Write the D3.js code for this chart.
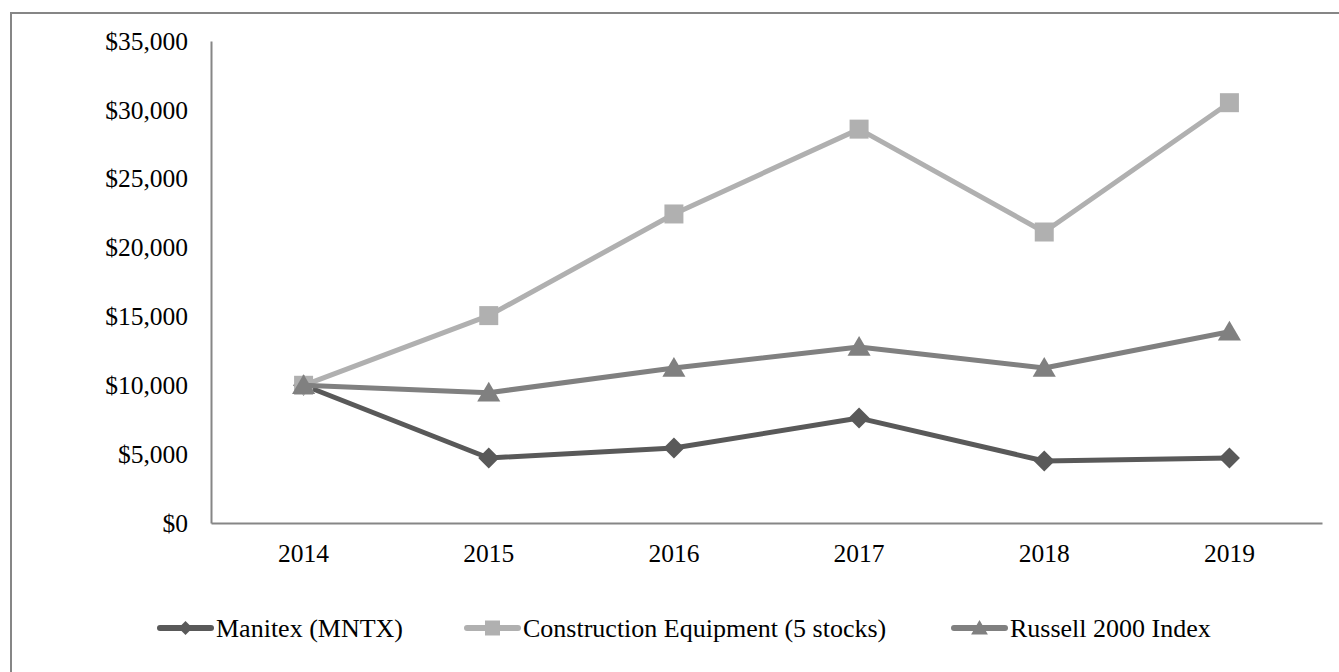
<!DOCTYPE html>
<html>
<head>
<meta charset="utf-8">
<script src="https://cdn.jsdelivr.net/npm/d3@7"></script>
<style>
	body { margin: 0; background: #fff; }
	svg { display: block; font-family: "Liberation Serif", "Times New Roman", serif; }
</style>
</head>
<body>
<svg width="1339" height="672"></svg>
<script>
const years = ["2014", "2015", "2016", "2017", "2018", "2019"]
const manitex = [10000, 4720, 5450, 7620, 4500, 4720]
const construction = [10000, 15060, 22440, 28600, 21130, 30520]
const russell = [10000, 9460, 11260, 12780, 11260, 13890]
const yTicks = [0, 5000, 10000, 15000, 20000, 25000, 30000, 35000]

const series = [
	{ name: "Manitex (MNTX)", values: manitex, color: "#595959", shape: "diamond" },
	{ name: "Construction Equipment (5 stocks)", values: construction, color: "#b0b0b0", shape: "square" },
	{ name: "Russell 2000 Index", values: russell, color: "#808080", shape: "triangle" },
]

const svg = d3.select("svg")
const axisColor = "#868686"

// outer frame (runs off the right/bottom edge like the original)
svg.append("rect")
	.attr("x", 11).attr("y", 13)
	.attr("width", 1400).attr("height", 700)
	.attr("fill", "none")
	.attr("stroke", axisColor)
	.attr("stroke-width", 2)

const x = d3.scaleBand().domain(years).range([211, 1322])
const y = d3.scaleLinear().domain([0, 35000]).range([523, 41])
const cx = d => x(d) + x.bandwidth() / 2

const fmt = v => "$" + d3.format(",")(v)

// y axis
const yAxis = svg.append("g")
	.attr("transform", "translate(211,0)")
	.call(d3.axisLeft(y).tickValues(yTicks).tickFormat(fmt).tickSize(0).tickPadding(23))
	.attr("font-family", null)
	.attr("font-size", 25.5)
yAxis.select(".domain").attr("stroke", axisColor).attr("stroke-width", 2)
yAxis.selectAll("text").attr("fill", "#000")

// x axis
const xAxis = svg.append("g")
	.attr("transform", "translate(0,523)")
	.call(d3.axisBottom(x).tickSize(0).tickPadding(21))
	.attr("font-family", null)
	.attr("font-size", 25.5)
xAxis.select(".domain").attr("stroke", axisColor).attr("stroke-width", 2)
xAxis.selectAll("text").attr("fill", "#000")

const symbols = {
	diamond: s => `M0,${-s} L${s},0 L0,${s} L${-s},0 Z`,
	square: s => `M${-s},${-s} H${s} V${s} H${-s} Z`,
	triangle: s => `M0,${-s} L${s * 1.05},${s * 0.8} L${-s * 1.05},${s * 0.8} Z`,
}
const markerSize = { diamond: 10.5, square: 9.5, triangle: 11 }
const legendSize = { diamond: 7, square: 7.5, triangle: 8 }

const line = d3.line().x((d, i) => cx(years[i])).y(d => y(d))

series.forEach(s => {
	const g = svg.append("g")
	g.append("path")
		.attr("d", line(s.values))
		.attr("fill", "none")
		.attr("stroke", s.color)
		.attr("stroke-width", 5)
		.attr("stroke-linejoin", "round")
	g.selectAll("path.mark")
		.data(s.values)
		.enter()
		.append("path")
		.attr("class", "mark")
		.attr("d", symbols[s.shape](markerSize[s.shape]))
		.attr("transform", (d, i) => `translate(${cx(years[i])},${y(d)})`)
		.attr("fill", s.color)
})

// legend
const legendX = [158, 465, 952]
const legend = svg.append("g")
series.forEach((s, i) => {
	const g = legend.append("g").attr("transform", `translate(${legendX[i]},628)`)
	g.append("line")
		.attr("x1", 2).attr("x2", 53)
		.attr("stroke", s.color)
		.attr("stroke-width", 6)
		.attr("stroke-linecap", "round")
	g.append("path")
		.attr("d", symbols[s.shape](legendSize[s.shape]))
		.attr("transform", "translate(27.5,0)")
		.attr("fill", s.color)
	g.append("text")
		.attr("x", 58)
		.attr("dy", "0.33em")
		.attr("font-size", 26)
		.text(s.name)
})
</script>
</body>
</html>
